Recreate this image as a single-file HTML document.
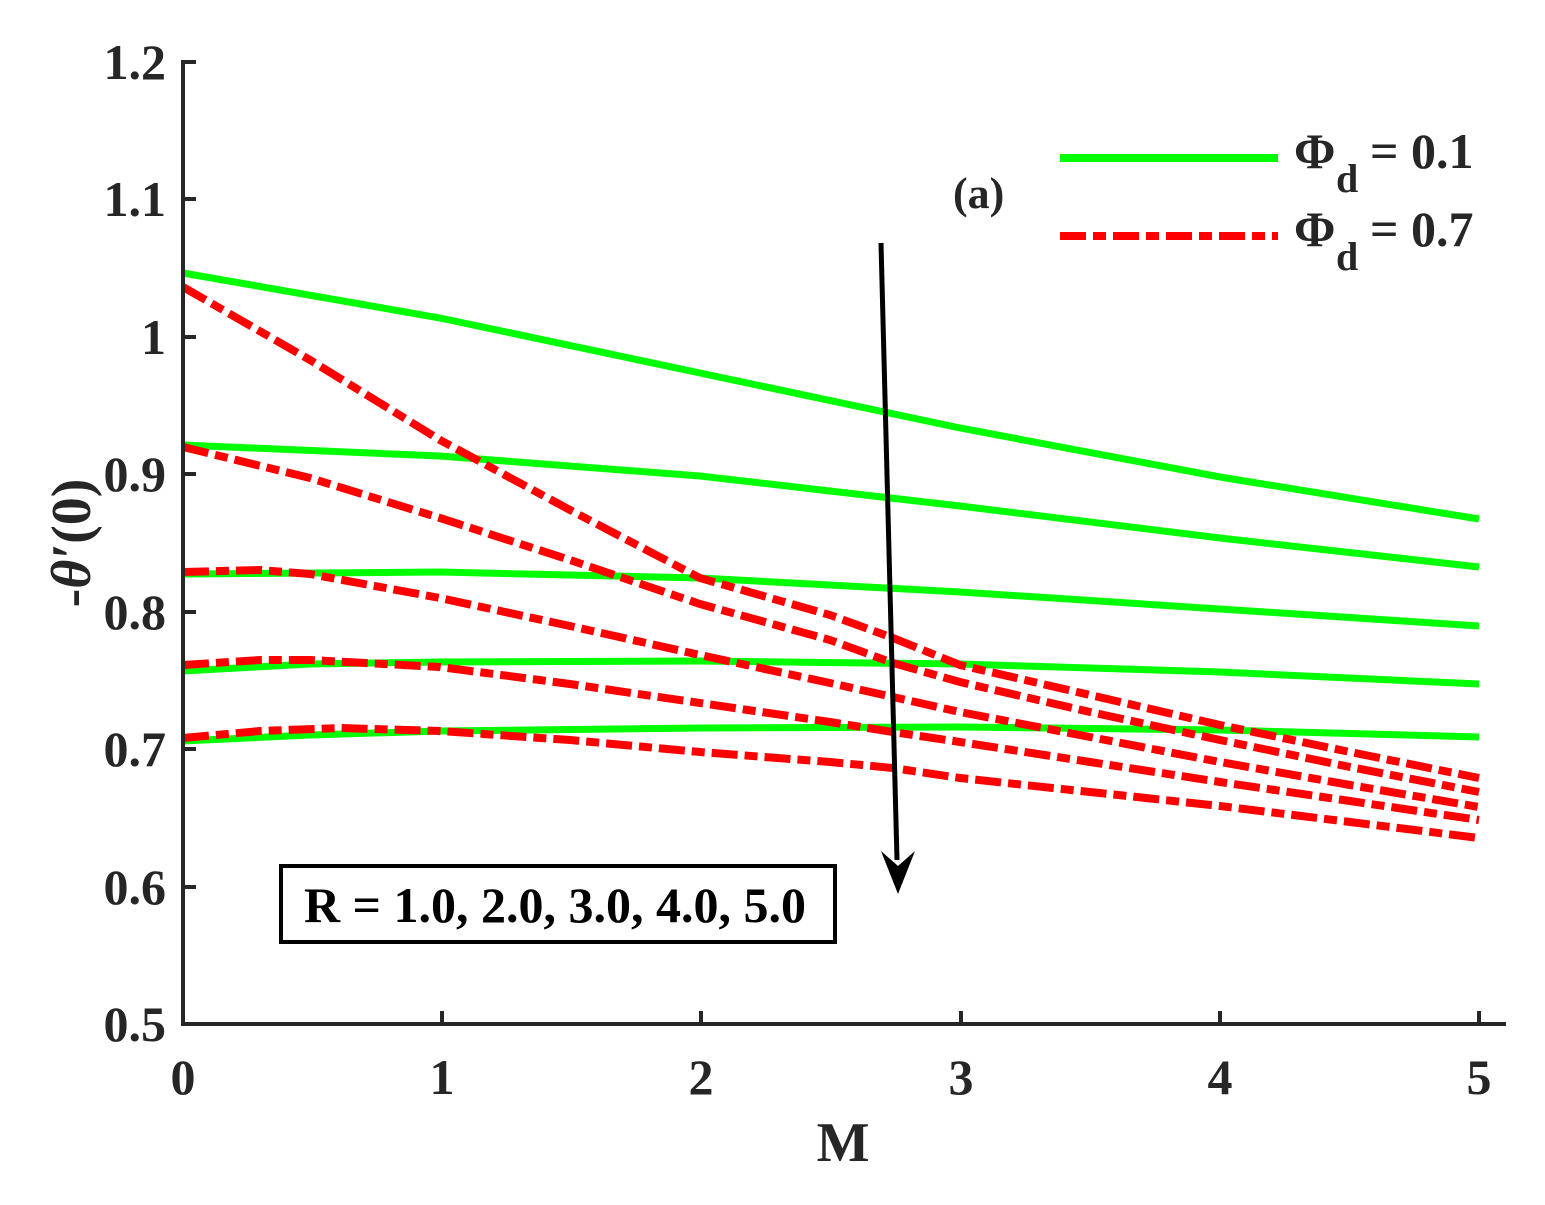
<!DOCTYPE html>
<html><head><style>
html,body{margin:0;padding:0;background:#fff;}
text{font-family:"Liberation Serif",serif;font-weight:bold;fill:#262626;}
</style></head><body>
<svg width="1545" height="1200" xmlns="http://www.w3.org/2000/svg">
<g fill="none" stroke="#00ff00" stroke-width="7">
<polyline points="183,273 440,318 700,373 960,428 1220,477 1479,519"/>
<polyline points="183,445 440,456 700,476 960,506 1220,538 1479,567"/>
<polyline points="183,574 440,572 700,578 960,592 1220,609 1479,626"/>
<polyline points="183,671 310,664 440,662 700,661 960,664 1220,672 1479,684"/>
<polyline points="183,741 310,735 440,731 700,728 960,727 1220,730 1479,737"/>
</g>
<g fill="none" stroke="#ff0000" stroke-width="8" stroke-dasharray="26,7,13,7">
<polyline points="183,287 310,360 440,440 570,510 700,578 830,615 893,638 960,665 1090,695 1220,725 1350,752 1479,778"/>
<polyline points="183,447 310,478 440,518 570,560 700,604 830,640 893,663 960,682 1090,712 1220,740 1350,767 1479,792"/>
<polyline points="183,572 260,570 310,574 440,598 570,626 700,655 830,683 893,697 960,712 1090,737 1220,762 1350,785 1479,807"/>
<polyline points="183,665 260,660 310,660 440,667 570,684 700,703 830,722 893,732 960,742 1090,762 1220,782 1350,801 1479,820"/>
<polyline points="183,738 260,731 340,728 440,731 570,740 700,752 830,762 893,768 960,778 1090,792 1220,806 1350,822 1479,838"/>
</g>
<g stroke="#262626" stroke-width="4" fill="none">
<line x1="183" y1="60" x2="183" y2="1026"/>
<line x1="181" y1="1024" x2="1506" y2="1024"/>
<line x1="183" y1="62" x2="196" y2="62"/>
<line x1="183" y1="199" x2="196" y2="199"/>
<line x1="183" y1="337" x2="196" y2="337"/>
<line x1="183" y1="474" x2="196" y2="474"/>
<line x1="183" y1="612" x2="196" y2="612"/>
<line x1="183" y1="749" x2="196" y2="749"/>
<line x1="183" y1="887" x2="196" y2="887"/>
<line x1="442" y1="1024" x2="442" y2="1011"/>
<line x1="701" y1="1024" x2="701" y2="1011"/>
<line x1="961" y1="1024" x2="961" y2="1011"/>
<line x1="1220" y1="1024" x2="1220" y2="1011"/>
<line x1="1479" y1="1024" x2="1479" y2="1011"/>
</g>
<g font-size="50" text-anchor="end">
<text x="166" y="79">1.2</text>
<text x="166" y="216">1.1</text>
<text x="166" y="354">1</text>
<text x="166" y="491">0.9</text>
<text x="166" y="629">0.8</text>
<text x="166" y="766">0.7</text>
<text x="166" y="904">0.6</text>
<text x="166" y="1041">0.5</text>
</g>
<g font-size="50" text-anchor="middle">
<text x="183" y="1094">0</text>
<text x="442" y="1094">1</text>
<text x="701" y="1094">2</text>
<text x="961" y="1094">3</text>
<text x="1220" y="1094">4</text>
<text x="1479" y="1094">5</text>
</g>
<text x="843" y="1161" font-size="56" text-anchor="middle">M</text>
<text transform="translate(90,543) rotate(-90)" font-size="56" text-anchor="middle"><tspan>-</tspan><tspan font-style="italic">θ′</tspan><tspan>(0)</tspan></text>
<line x1="1060" y1="158" x2="1278" y2="158" stroke="#00ff00" stroke-width="8"/>
<line x1="1060" y1="236" x2="1278" y2="236" stroke="#ff0000" stroke-width="8" stroke-dasharray="26,7,13,7"/>
<text x="1294" y="168" font-size="50">Φ</text><text x="1336" y="192" font-size="40">d</text><text x="1370" y="168" font-size="50">= 0.1</text>
<text x="1294" y="246" font-size="50">Φ</text><text x="1336" y="270" font-size="40">d</text><text x="1370" y="246" font-size="50">= 0.7</text>
<text x="953" y="208" font-size="44">(a)</text>
<line x1="881" y1="243" x2="897" y2="860" stroke="#000" stroke-width="5"/>
<polygon points="881,851 898,894 915,851 898,866" fill="#000"/>
<rect x="281" y="866" width="554" height="76" fill="#fff" stroke="#000" stroke-width="4"/>
<text x="555" y="922" font-size="50" text-anchor="middle" style="fill:#000">R = 1.0, 2.0, 3.0, 4.0, 5.0</text>
</svg>
</body></html>
